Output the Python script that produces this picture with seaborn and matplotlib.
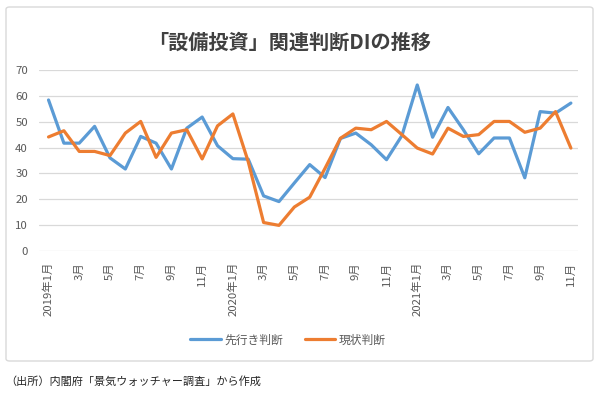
import matplotlib
matplotlib.use("Agg")
import matplotlib.pyplot as plt
from matplotlib.patches import FancyBboxPatch
from matplotlib.lines import Line2D
import seaborn as sns
import pandas as pd

months = [f"{y}年{m}月" for y in (2019, 2020, 2021) for m in range(1, 13)][:35]
tick_labels = ["2019年1月", "3月", "5月", "7月", "9月", "11月",
               "2020年1月", "3月", "5月", "7月", "9月", "11月",
               "2021年1月", "3月", "5月", "7月", "9月", "11月"]

outlook = [58.4, 41.7, 41.7, 48.2, 36.0, 31.7, 44.3, 41.7, 31.7, 47.5, 51.8, 40.7,
           35.7, 35.5, 21.3, 19.1, 26.3, 33.4, 28.4, 43.5, 45.6, 41.1, 35.3, 44.6,
           64.2, 44.0, 55.5, 46.9, 37.6, 43.7, 43.7, 28.3, 53.9, 53.3, 57.2]
current = [44.1, 46.5, 38.5, 38.5, 36.9, 45.6, 50.1, 36.2, 45.6, 46.9, 35.6, 48.4,
           53.0, 34.5, 11.0, 9.9, 17.0, 20.8, 32.0, 43.6, 47.5, 46.9, 50.1, 45.0,
           39.8, 37.5, 47.5, 44.3, 45.0, 50.1, 50.1, 45.9, 47.5, 53.9, 39.8]

series_names = ["先行き判断", "現状判断"]
colors = ["#5B9BD5", "#ED7D31"]

sns.set_theme(style="white")
plt.rcParams["font.family"] = ["Noto Sans CJK JP", "DejaVu Sans"]

df = pd.DataFrame({
    "idx": list(range(len(months))) * 2,
    "value": outlook + current,
    "series": [series_names[0]] * len(months) + [series_names[1]] * len(months),
})

fig = plt.figure(figsize=(6.0, 3.99), dpi=100)
ax = fig.add_axes([0.065, 0.371, 0.898, 0.4536])

sns.lineplot(data=df, x="idx", y="value", hue="series", palette=colors,
             linewidth=2.3, ax=ax, legend=False)

ax.set_xlim(-0.62, 34.45)
ax.set_ylim(0, 70)
ax.set_yticks(range(0, 71, 10))
ax.set_xticks(range(0, 35, 2))
ax.set_xticklabels(tick_labels, rotation=90, va="top")
ax.tick_params(axis="both", length=0, labelsize=8.2, colors="#595959")
ax.tick_params(axis="x", pad=8)
ax.tick_params(axis="y", pad=8)
ax.yaxis.grid(True, color="#D9D9D9", linewidth=0.9)
ax.xaxis.grid(False)
ax.set_axisbelow(True)
for s in ax.spines.values():
    s.set_visible(False)
ax.set_xlabel("")
ax.set_ylabel("")

fig.text(0.483, 0.895, "「設備投資」関連判断DIの推移", ha="center", va="center",
         fontsize=14.5, fontweight="bold", color="#404040")

handles = [Line2D([0], [0], color=c, linewidth=2.3) for c in colors]
fig.legend(handles, series_names, loc="center", bbox_to_anchor=(0.48, 0.148),
           ncol=2, frameon=False, fontsize=8.5, handlelength=2.6,
           columnspacing=1.8, handletextpad=0.3, labelcolor="#595959")

frame = FancyBboxPatch((6 / 600, 1 - 361 / 399), 587 / 600, 354 / 399,
                       boxstyle="round,pad=0,rounding_size=0.006",
                       transform=fig.transFigure, fill=False,
                       edgecolor="#D9D9D9", linewidth=1.0)
fig.patches.append(frame)

fig.text(0.008, 1 - 381 / 399, "（出所）内閣府「景気ウォッチャー調査」から作成",
         ha="left", va="center", fontsize=8, color="#262626")

fig.savefig("out.png", dpi=100)
